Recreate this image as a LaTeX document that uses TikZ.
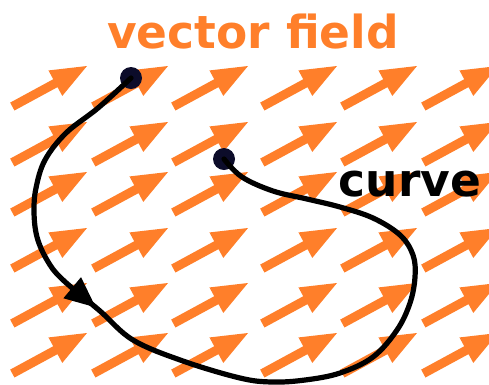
\documentclass[tikz,border=0pt]{standalone}
\usepackage{fontspec}
\setmainfont{DejaVu Sans}
\usetikzlibrary{arrows.meta,decorations.markings}
\definecolor{vecorange}{RGB}{255,127,42}
\definecolor{dotnavy}{RGB}{12,12,42}
\begin{document}
\begin{tikzpicture}[x=1pt,y=-1pt,
  vecarrow/.pic={\fill[vecorange,rotate=28.5] (0,0) -- (-36,14.5) -- (-36,4.5) -- (-85,4.5) -- (-85,-4.5) -- (-36,-4.5) -- (-36,-14.5) -- cycle;},
  bigtext/.style={font=\bfseries\fontsize{45.5}{45.5}\selectfont, inner sep=0pt, anchor=base},
  dotnode/.style={circle, fill=dotnavy, minimum size=22pt, inner sep=0pt},
  curveline/.style={line width=5.2pt, black, line cap=round,
    postaction={decorate},
    decoration={markings, mark=at position 0.315 with {\arrow{Triangle[length=31pt,width=26pt]}}}}
]
\useasboundingbox (0,0) rectangle (489,384);
\clip (0,0) rectangle (489,384);
\foreach \tx in {87,168,248,337,417,498}
  \foreach \ty in {66,122,172,228,283,333}
    \pic at (\tx,\ty) {vecarrow};
\node[bigtext, text=vecorange] (title) at (253,48) {vector field};
\node[bigtext, text=black] (lbl) at (410,196) {curve};
\node[dotnode] (d1) at (131,78) {};
\node[dotnode] (d2) at (224,159) {};
\draw[curveline] plot[smooth, tension=0.6] coordinates {
  (d1.center) (98,108) (66,133) (45,160) (36,188) (34,212) (37,237) (47,260) (62,279)
  (100,311) (133,340) (183,361) (240,378) (272,382) (305,380) (340,373) (373,357)
  (397,330) (410,303) (415,277) (413,255) (400,235) (373,218) (340,207) (307,199)
  (273,191) (242,177) (d2.center)};
\end{tikzpicture}
\end{document}
